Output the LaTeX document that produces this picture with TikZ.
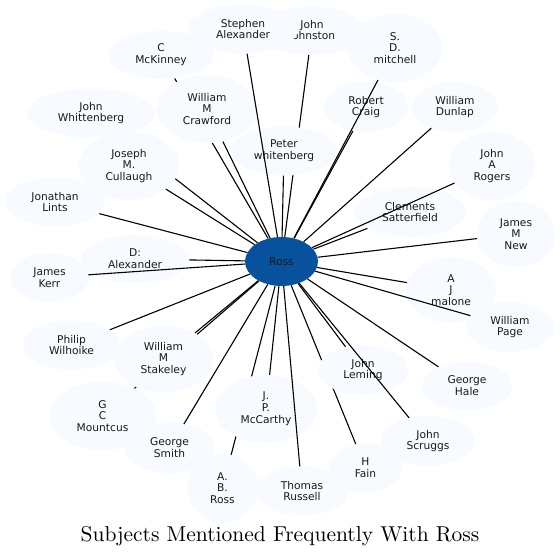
\documentclass[tikz,border=0pt]{standalone}
\usepackage{fontspec}
\newfontfamily\nodefont{DejaVu Sans}
\newfontfamily\titlefont{lmroman10-regular.otf}
\usetikzlibrary{shapes.geometric}
\definecolor{lightb}{HTML}{F7FBFF}
\definecolor{rossb}{HTML}{08519C}
\pgfdeclarelayer{bg}
\pgfdeclarelayer{fg}
\pgfsetlayers{bg,main,fg}
\begin{document}
\begin{tikzpicture}[x=1pt,y=-1pt,
  nd/.style 2 args={ellipse, fill=lightb, inner sep=0pt, minimum width=#1pt, minimum height=#2pt,
    align=center, text=black!90, font={\nodefont\fontsize{10.67}{11.8}\selectfont}},
  ed/.style={line width=1.1pt, black}]
\useasboundingbox (0,0) rectangle (560,557);
\node[nd={106}{48}] (jj) at (312,31) {John\\Johnston};
\node[nd={110}{49}] (sa) at (243,29) {Stephen\\Alexander};
\node[nd={94}{68}] (sdm) at (395,48) {S.\\D.\\mitchell};
\node[nd={106}{48}] (ck) at (161,55) {C\\McKinney};
\node[nd={100}{68}] (wmc) at (207,109) {William\\M\\Crawford};
\node[nd={128}{49}] (jw) at (91,113) {John\\Whittenberg};
\node[nd={84}{50}] (rc) at (366,107) {Robert\\Craig};
\node[nd={86}{50}] (wd) at (455,107) {William\\Dunlap};
\node[nd={106}{49}] (pw) at (284,151) {Peter\\whitenberg};
\node[nd={100}{68}] (jmc) at (129,166) {Joseph\\M.\\Cullaugh};
\node[nd={86}{68}] (jar) at (492,166) {John\\A\\Rogers};
\node[nd={100}{49}] (jl) at (55,202) {Jonathan\\Lints};
\node[nd={112}{50}] (cs) at (410,212) {Clements\\Satterfield};
\node[nd={78}{66}] (jmn) at (516,234) {James\\M\\New};
\node[nd={108}{48}] (da) at (135,259) {D:\\Alexander};
\node[nd={78}{49}] (jk) at (49.5,277.5) {James\\Kerr};
\node[nd={90}{66}] (ajm) at (451,290) {A\\J\\malone};
\node[nd={88}{50}] (wp) at (510,327) {William\\Page};
\node[nd={97}{49}] (pwi) at (71.5,345) {Philip\\Wilhoike};
\node[nd={99}{67}] (wms) at (163.5,359) {William\\M\\Stakeley};
\node[nd={90}{50}] (jle) at (363,370) {John\\Leming};
\node[nd={90}{49}] (gh) at (467,386) {George\\Hale};
\node[nd={107}{68}] (gcm) at (102.5,416) {G\\C\\Mountcus};
\node[nd={102}{68}] (jpm) at (266,409) {J.\\P.\\McCarthy};
\node[nd={94}{50}] (js) at (428,441) {John\\Scruggs};
\node[nd={91}{50}] (gs) at (169.5,448) {George\\Smith};
\node[nd={73}{49}] (hf) at (365.5,468) {H\\Fain};
\node[nd={71}{68}] (abr) at (222.5,488) {A.\\B.\\Ross};
\node[nd={92}{49}] (tr) at (302,491) {Thomas\\Russell};
\node[nd={73}{49}, fill=rossb] (ross) at (281.5,261.5) {Ross};
\node[font={\titlefont\fontsize{21.5}{24}\selectfont}, anchor=base, inner sep=0pt] (title) at (280,541) {Subjects Mentioned Frequently With Ross};
\begin{pgfonlayer}{bg}
\foreach \t in {ck,jj,jw,hf,abr,gcm}{\draw[ed] (ross) -- (\t);}
\end{pgfonlayer}
\begin{pgfonlayer}{fg}
\foreach \t in {sa,sdm,wmc,rc,wd,pw,jmc,jar,jl,cs,jmn,da,jk,ajm,wp,pwi,wms,jle,gh,jpm,js,gs,tr}{\draw[ed] (ross) -- (\t);}
\end{pgfonlayer}
\end{tikzpicture}
\end{document}
